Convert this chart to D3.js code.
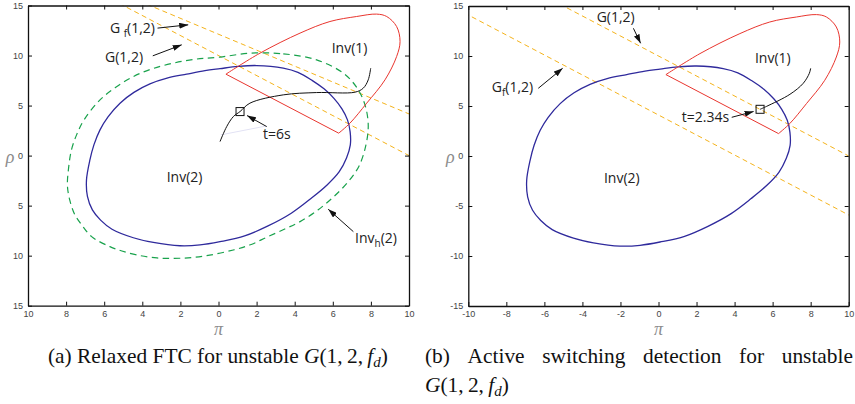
<!DOCTYPE html>
<html>
<head>
<meta charset="utf-8">
<script src="https://cdn.jsdelivr.net/npm/d3@7"></script>
<style>
  body { margin: 0; background: #fff; }
  svg { display: block; }
  .tick text { font-family: "Liberation Sans", Arial, sans-serif; font-size: 9px; fill: #444; }
  .ann { font-family: "Open Sans", sans-serif; font-size: 14px; fill: #222; }
  .cap { font-family: "Liberation Serif", "Times New Roman", serif; fill: #111; }
  .axlab { font-family: "Liberation Serif", serif; font-style: italic; font-size: 18px; fill: #8c8c8c; }
</style>
</head>
<body>
<svg width="855" height="404"></svg>
<script>
// ticks
const xTickValues = [-10, -8, -6, -4, -2, 0, 2, 4, 6, 8, 10];
const yTickValues = [-15, -10, -5, 0, 5, 10, 15];
const xLabelsA = ["10", "8", "6", "4", "2", "0", "2", "4", "6", "8", "10"];
const yLabelsA = ["15", "10", "5", "0", "5", "10", "15"];
const xLabelsB = ["-10", "-8", "-6", "-4", "-2", "0", "2", "4", "6", "8", "10"];
const yLabelsB = ["-15", "-10", "-5", "0", "5", "10", "15"];

// Inv(2), blue
const inv2X = [2.0, 1.02, 0.08, -0.71, -1.67, -2.7, -3.6, -4.44, -5.17, -5.8, -6.22, -6.54, -6.75, -6.93, -6.88, -6.62, -6.19, -5.59, -4.47, -3.42, -2.02, -0.97, 0.08, 1.37, 2.6, 3.82, 4.87, 5.70, 6.33, 6.72, 6.92, 6.91, 6.77, 6.48, 6.06, 5.54, 4.91, 4.17, 3.4];
const inv2Y = [9.0, 8.91, 8.69, 8.49, 8.14, 7.74, 7.17, 6.32, 5.24, 3.87, 2.57, 1.07, -0.43, -2.43, -4.08, -5.43, -6.45, -7.36, -8.21, -8.68, -9.01, -8.93, -8.6, -8.03, -7.03, -5.76, -4.26, -2.93, -1.63, -0.23, 1.07, 2.37, 3.57, 4.67, 5.72, 6.67, 7.52, 8.32, 8.74];

// Inv_h(2), green dashed
const invH2X = [1.65, 3.40, 5.15, 6.55, 7.27, 7.69, 7.86, 7.74, 7.38, 6.80, 6.01, 5.22, 4.28, 3.48, 2.53, 1.72, 0.78, -0.71, -2.02, -3.23, -4.29, -5.07, -5.70, -6.66, -7.18, -7.56, -7.81, -7.93, -7.88, -7.72, -7.45, -7.06, -6.22, -5.43, -4.47, -3.49, -2.37, -1.18, 0.08];
const invH2Y = [10.24, 10.17, 9.57, 8.24, 6.77, 5.07, 3.07, 1.07, -1.03, -2.63, -4.18, -5.43, -6.60, -7.33, -8.16, -8.88, -9.43, -10.03, -10.26, -10.23, -9.93, -9.53, -9.10, -8.10, -6.93, -5.83, -4.43, -3.03, -1.43, 0.57, 2.07, 3.57, 5.57, 6.77, 7.90, 8.67, 9.24, 9.64, 9.84];

// Inv(1), red (curved outer part, closed by a straight edge)
const inv1X = [0.39, 2.18, 4.28, 5.85, 7.25, 8.3, 8.83, 9.35, 9.53, 9.35, 8.74, 7.78, 6.9, 6.31];
const inv1Y = [8.14, 10.24, 12.24, 13.4, 13.9, 14.14, 13.9, 12.9, 11.4, 9.9, 7.57, 5.24, 3.24, 2.24];

// switching lines, orange dashed
const gX = [-6, 11];
const gY = [16, -1];
const gfAX = [-5, 11];
const gfAY = [16.11, 3.37];
const gfBX = [-11, 11];
const gfBY = [15.1, -6.9];

// trajectories
const trajAX = [0.08, 0.43, 0.78, 1.13, 1.65, 3.4, 5.15, 7.17, 7.6, 7.86, 7.99];
const trajAY = [1.4, 2.9, 3.9, 4.4, 5.24, 6.07, 6.3, 6.34, 6.74, 7.57, 8.74];
const fadedX = [0.12, 2.53];
const fadedY = [2.07, 2.97];
const markA = [1.13, 4.4];
const trajBX = [5.34, 5.69, 6.91, 7.61, 7.93, 8.0];
const trajBY = [4.67, 4.97, 6.17, 7.27, 8.27, 8.77];
const markB = [5.34, 4.67];

const svg = d3.select("svg");

svg.append("defs").append("marker")
    .attr("id", "arrow")
    .attr("markerUnits", "userSpaceOnUse")
    .attr("markerWidth", 9).attr("markerHeight", 6)
    .attr("refX", 9).attr("refY", 3)
    .attr("orient", "auto")
  .append("path").attr("d", "M0,0L9,3L0,6Z").attr("fill", "#111");

const zip = (xs, ys) => xs.map((v, i) => [v, ys[i]]);

function drawPanel(o) {
    const x = d3.scaleLinear().domain([-10, 10]).range(o.xr);
    const y = d3.scaleLinear().domain([-15, 15]).range(o.yr);
    const g = svg.append("g");

    g.append("defs").append("clipPath").attr("id", o.id)
      .append("rect").attr("x", o.xr[0]).attr("y", o.yr[1])
        .attr("width", o.xr[1] - o.xr[0]).attr("height", o.yr[0] - o.yr[1]);

    const plot = g.append("g").attr("clip-path", `url(#${o.id})`);
    const line = d3.line().x(d => x(d[0])).y(d => y(d[1]));
    const loop = d3.line().x(d => x(d[0])).y(d => y(d[1])).curve(d3.curveCatmullRomClosed.alpha(0.5));
    const smooth = d3.line().x(d => x(d[0])).y(d => y(d[1])).curve(d3.curveCatmullRom.alpha(0.5));

    o.dashes.forEach(l => {
        plot.append("path").attr("d", line(zip(l[0], l[1])))
            .attr("fill", "none").attr("stroke", "#f4b31c").attr("stroke-width", 1)
            .attr("stroke-dasharray", "5,3.5");
    });
    if (o.hull) {
        plot.append("path").attr("d", loop(zip(invH2X, invH2Y)))
            .attr("fill", "none").attr("stroke", "#19a24c").attr("stroke-width", 1.2)
            .attr("stroke-dasharray", "6.5,4.5");
    }
    plot.append("path").attr("d", loop(zip(inv2X, inv2Y)))
        .attr("fill", "none").attr("stroke", "#2f2a9c").attr("stroke-width", 1.3);
    plot.append("path").attr("d", smooth(zip(inv1X, inv1Y)) + "Z")
        .attr("fill", "none").attr("stroke", "#e8352e").attr("stroke-width", 1);
    if (o.faded) {
        plot.append("path").attr("d", line(zip(o.faded[0], o.faded[1])))
            .attr("fill", "none").attr("stroke", "#e2e2f4").attr("stroke-width", 1);
    }
    plot.append("path").attr("d", smooth(zip(o.traj[0], o.traj[1])))
        .attr("fill", "none").attr("stroke", "#111").attr("stroke-width", 1);
    plot.append("rect")
        .attr("x", x(o.mark[0]) - 4).attr("y", y(o.mark[1]) - 4)
        .attr("width", 8).attr("height", 8)
        .attr("fill", "none").attr("stroke", "#111").attr("stroke-width", 1);

    // axes, MATLAB-like box with inward ticks
    const [x0, x1] = o.xr, [y0, y1] = o.yr;
    const axes = [
        g.append("g").attr("transform", `translate(0,${y0})`)
            .call(d3.axisBottom(x).tickValues(xTickValues).tickFormat((d, i) => o.xLabels[i])
                .tickSizeInner(-4).tickSizeOuter(0).tickPadding(4.5)),
        g.append("g").attr("transform", `translate(0,${y1})`)
            .call(d3.axisTop(x).tickValues(xTickValues).tickFormat("")
                .tickSizeInner(-4).tickSizeOuter(0)),
        g.append("g").attr("transform", `translate(${x0},0)`)
            .call(d3.axisLeft(y).tickValues(yTickValues).tickFormat((d, i) => o.yLabels[i])
                .tickSizeInner(-4).tickSizeOuter(0).tickPadding(5)),
        g.append("g").attr("transform", `translate(${x1},0)`)
            .call(d3.axisRight(y).tickValues(yTickValues).tickFormat("")
                .tickSizeInner(-4).tickSizeOuter(0))
    ];
    axes.forEach(a => {
        a.select(".domain").attr("stroke", "#111").attr("stroke-width", 1.3);
        a.selectAll(".tick line").attr("stroke", "#111");
    });

    g.append("text").attr("class", "axlab").attr("text-anchor", "middle")
        .attr("x", (x0 + x1) / 2).attr("y", 335).text("π");
    g.append("text").attr("class", "axlab").attr("text-anchor", "middle")
        .attr("x", x0 - 18).attr("y", y(0) + 7).text("ρ");

    // labels and arrows
    o.notes.forEach(n => {
        const t = g.append("text").attr("class", "ann").attr("x", x(n.at[0])).attr("y", y(n.at[1]));
        t.append("tspan").text(n.text);
        if (n.sub) {
            t.append("tspan").attr("font-size", "10px").attr("dy", 4).text(n.sub);
            t.append("tspan").attr("dy", -4).text(n.tail);
        }
        if (n.from) {
            g.append("line")
                .attr("x1", x(n.from[0])).attr("y1", y(n.from[1]))
                .attr("x2", x(n.to[0])).attr("y2", y(n.to[1]))
                .attr("stroke", "#111").attr("stroke-width", 1)
                .attr("marker-end", "url(#arrow)");
        }
    });
}

drawPanel({
    id: "clipA", xr: [28, 409], yr: [305.7, 5.5],
    xLabels: xLabelsA, yLabels: yLabelsA,
    dashes: [[gX, gY], [gfAX, gfAY]],
    hull: true, faded: [fadedX, fadedY],
    traj: [trajAX, trajAY], mark: markA,
    notes: [
        { text: "G ", sub: "f", tail: "(1,2)", at: [-5.7, 12.27], from: [-3.2, 12.74], to: [-1.59, 13.07] },
        { text: "G(1,2)", at: [-5.96, 9.4], from: [-3.45, 9.97], to: [-1.93, 11.07] },
        { text: "Inv(1)", at: [5.94, 10.24] },
        { text: "t=6s", at: [2.34, 1.64], from: [2.53, 2.9], to: [1.5, 4.0] },
        { text: "Inv(2)", at: [-2.72, -2.6] },
        { text: "Inv", sub: "h", tail: "(2)", at: [7.17, -8.7], from: [7.08, -7.6], to: [5.76, -5.36] }
    ]
});

drawPanel({
    id: "clipB", xr: [468.3, 848.7], yr: [306, 6],
    xLabels: xLabelsB, yLabels: yLabelsB,
    dashes: [[gX, gY], [gfBX, gfBY]],
    hull: false, faded: null,
    traj: [trajBX, trajBY], mark: markB,
    notes: [
        { text: "G(1,2)", at: [-3.25, 13.43], from: [-1.32, 12.77], to: [-0.94, 11.27] },
        { text: "G", sub: "f", tail: "(1,2)", at: [-8.77, 6.43], from: [-6.32, 6.77], to: [-5.04, 8.77] },
        { text: "Inv(1)", at: [5.07, 9.27] },
        { text: "t=2.34s", at: [1.22, 3.43], from: [3.85, 3.87], to: [5.0, 4.45] },
        { text: "Inv(2)", at: [-2.87, -2.67] }
    ]
});

// captions
function mathG(t) {
    t.append("tspan").attr("font-style", "italic").text("G");
    t.append("tspan").text("(1,\u20092,\u2009");
    t.append("tspan").attr("font-style", "italic").text("f");
    t.append("tspan").attr("font-style", "italic").attr("font-size", "0.7em").attr("dy", "0.25em").text("d");
    t.append("tspan").attr("dy", "-0.18em").text(")");
}

const capA = svg.append("text").attr("class", "cap").attr("x", 48).attr("y", 363).attr("font-size", 18);
capA.append("tspan").text("(a) Relaxed FTC for unstable ");
mathG(capA);
const fs = 18 * 340 / capA.node().getComputedTextLength();
capA.attr("font-size", fs);

const wordsB = ["(b)", "Active", "switching", "detection", "for", "unstable"];
const wb = wordsB.map(w => {
    const t = svg.append("text").attr("class", "cap").attr("font-size", fs).attr("y", 363).text(w);
    return { t, w: t.node().getComputedTextLength() };
});
const gap = (853 - 425 - d3.sum(wb, d => d.w)) / (wordsB.length - 1);
let cx = 425;
wb.forEach(d => { d.t.attr("x", cx); cx += d.w + gap; });

const capB2 = svg.append("text").attr("class", "cap").attr("x", 425).attr("y", 392).attr("font-size", fs);
mathG(capB2);
</script>
</body>
</html>
